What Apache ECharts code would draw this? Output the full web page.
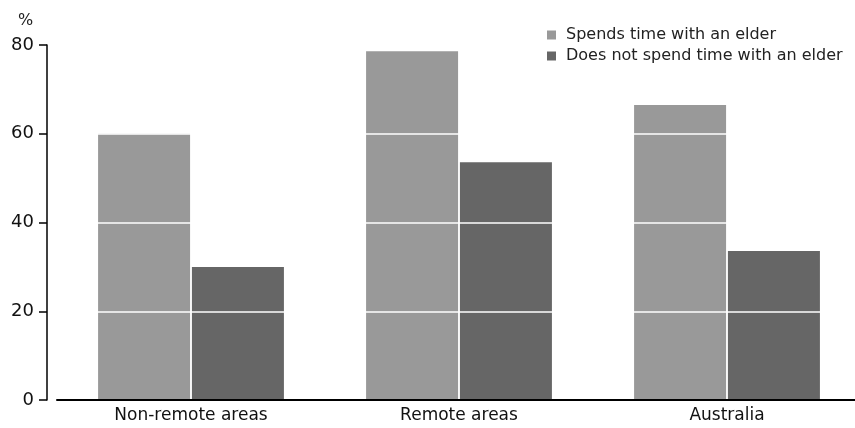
<!DOCTYPE html>
<html><head><meta charset="utf-8">
<script src="https://cdn.jsdelivr.net/npm/echarts@6/dist/echarts.min.js"></script>
<style>html,body{margin:0;padding:0;background:#fff}#c{width:855px;height:428px}</style>
</head><body><div id="c"></div>
<script>
const categories = ['Non-remote areas', 'Remote areas', 'Australia'];
const spends = [60, 78.6, 66.5];
const doesNot = [30, 53.6, 33.6];
const yTicks = [0, 20, 40, 60, 80];
const seriesNames = ['Spends time with an elder', 'Does not spend time with an elder'];

const font = 'DejaVu Sans';
const chart = echarts.init(document.getElementById('c'));
chart.setOption({
  animation: false,
  textStyle: { fontFamily: font },
  grid: { left: 57, width: 804, top: 45, bottom: 28, containLabel: false, outerBoundsMode: 'none' },
  legend: {
    orient: 'vertical', left: 547, top: 27, padding: 0, itemWidth: 9, itemHeight: 9, itemGap: 5,
    icon: 'rect',
    textStyle: { fontSize: 16, color: '#222', fontFamily: font, padding: [0, 0, 0, 5] },
    data: seriesNames
  },
  graphic: [{ type: 'text', left: 18, top: 13, style: { text: '%', fontSize: 16, fill: '#222', fontFamily: font } }],
  xAxis: {
    type: 'category', data: categories, z: 12,
    axisLine: { lineStyle: { color: '#000', width: 2 } },
    axisTick: { alignWithLabel: true, length: 7, lineStyle: { color: '#000', width: 1.5 } },
    axisLabel: { fontSize: 17, color: '#111', margin: 7, fontFamily: font }
  },
  yAxis: {
    type: 'value', min: 0, max: 80, interval: 20, offset: 10, z: 10,
    axisLine: { show: true, lineStyle: { color: '#000', width: 1.5 } },
    axisTick: { show: true, inside: false, length: 8, lineStyle: { color: '#000', width: 1.5 } },
    axisLabel: { fontSize: 18, color: '#111', margin: 13, fontFamily: font,
      formatter: v => yTicks.includes(v) ? String(v) : '' },
    splitLine: { show: true, lineStyle: { color: '#fff', width: 1.5 } }
  },
  series: [
    { name: seriesNames[0], type: 'bar', data: spends, barWidth: 92, barGap: '2%', itemStyle: { color: '#999999' } },
    { name: seriesNames[1], type: 'bar', data: doesNot, barWidth: 92, barGap: '2%', itemStyle: { color: '#666666' } }
  ]
});
</script></body></html>
